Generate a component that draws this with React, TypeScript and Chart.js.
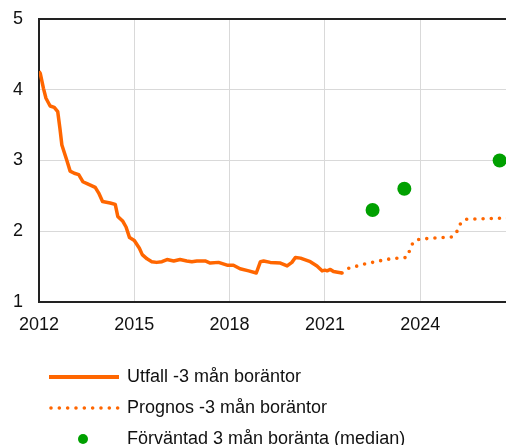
import React, { useEffect, useRef } from "react";
import { Chart, registerables } from "chart.js";

Chart.register(...registerables);

const seriesLabels = [
  "Utfall -3 mån boräntor",
  "Prognos -3 mån boräntor",
  "Förväntad 3 mån boränta (median)",
];

const outcomeYears = [
  2012.0, 2012.04, 2012.14, 2012.22, 2012.35, 2012.48, 2012.59, 2012.66, 2012.72, 2012.87,
  2012.98, 2013.11, 2013.25, 2013.38, 2013.53, 2013.77, 2013.88, 2014.0, 2014.24, 2014.4,
  2014.48, 2014.64, 2014.74, 2014.85, 2015.0, 2015.16, 2015.25, 2015.4, 2015.55, 2015.7,
  2015.87, 2016.03, 2016.24, 2016.44, 2016.65, 2016.81, 2016.97, 2017.23, 2017.39, 2017.65,
  2017.92, 2018.12, 2018.33, 2018.6, 2018.84, 2018.97, 2019.07, 2019.28, 2019.6, 2019.81,
  2019.96, 2020.07, 2020.23, 2020.54, 2020.75, 2020.91, 2021.0, 2021.07, 2021.17, 2021.27,
  2021.4, 2021.54,
];
const outcomeValues = [
  4.26, 4.23, 4.02, 3.88, 3.77, 3.75, 3.69, 3.45, 3.22, 3.01,
  2.85, 2.82, 2.8, 2.7, 2.67, 2.62, 2.54, 2.42, 2.4, 2.38,
  2.21, 2.14, 2.06, 1.91, 1.87, 1.76, 1.67, 1.61, 1.57, 1.56,
  1.57, 1.6, 1.58, 1.6, 1.58, 1.57, 1.58, 1.58, 1.55, 1.56,
  1.52, 1.52, 1.47, 1.44, 1.41, 1.57, 1.58, 1.56, 1.55, 1.51,
  1.56, 1.63, 1.62, 1.57, 1.51, 1.44, 1.45, 1.44, 1.46, 1.43,
  1.42, 1.41,
];

const forecastYears = [
  2021.54, 2021.76, 2022.03, 2022.28, 2022.55, 2022.81, 2023.06, 2023.31, 2023.58, 2023.67,
  2023.78, 2023.99, 2025.01, 2025.16, 2025.27, 2025.43, 2027.0,
];
const forecastValues = [
  1.41, 1.48, 1.51, 1.54, 1.565, 1.59, 1.61, 1.62, 1.63, 1.73,
  1.85, 1.89, 1.92, 2.0, 2.11, 2.17, 2.19,
];

const surveyYears = [2022.5, 2023.5, 2026.5];
const surveyValues = [2.3, 2.6, 3.0];

const xTicks = [2012, 2015, 2018, 2021, 2024];
const yTicks = [1, 2, 3, 4, 5];

const ORANGE = "#ff6600";
const GREEN = "#00a000";
const AXIS = "#222222";
const GRID = "#d9d9d9";
const FONT = "'Liberation Sans', Arial, sans-serif";

function makeIcon(kind: "solid" | "dotted" | "dot"): HTMLCanvasElement {
  const c = document.createElement("canvas");
  c.width = 72;
  c.height = 12;
  const g = c.getContext("2d")!;
  if (kind === "solid") {
    g.strokeStyle = ORANGE;
    g.lineWidth = 4;
    g.beginPath();
    g.moveTo(0, 6);
    g.lineTo(70, 6);
    g.stroke();
  } else if (kind === "dotted") {
    g.strokeStyle = ORANGE;
    g.lineWidth = 3.6;
    g.lineCap = "round";
    g.setLineDash([0, 8.33]);
    g.beginPath();
    g.moveTo(2, 6);
    g.lineTo(70, 6);
    g.stroke();
  } else {
    g.fillStyle = GREEN;
    g.beginPath();
    g.arc(34, 6, 5, 0, Math.PI * 2);
    g.fill();
  }
  return c;
}

export default function App() {
  const ref = useRef<HTMLCanvasElement | null>(null);

  useEffect(() => {
    document.body.style.margin = "0";
    const canvas = ref.current;
    if (!canvas) return;
    const icons = [makeIcon("solid"), makeIcon("dotted"), makeIcon("dot")];

    const chart = new Chart(canvas, {
      type: "line",
      data: {
        datasets: [
          {
            label: seriesLabels[0],
            data: outcomeYears.map((x, i) => ({ x, y: outcomeValues[i] })),
            borderColor: ORANGE,
            backgroundColor: ORANGE,
            borderWidth: 3.5,
            pointRadius: 0,
            tension: 0,
            borderJoinStyle: "round",
          },
          {
            label: seriesLabels[1],
            data: forecastYears.map((x, i) => ({ x, y: forecastValues[i] })),
            borderColor: ORANGE,
            backgroundColor: ORANGE,
            borderWidth: 3.6,
            borderDash: [0, 8.2],
            borderCapStyle: "round",
            pointRadius: 0,
            tension: 0,
          },
          {
            type: "scatter",
            label: seriesLabels[2],
            data: surveyYears.map((x, i) => ({ x, y: surveyValues[i] })),
            borderColor: GREEN,
            backgroundColor: GREEN,
            pointBackgroundColor: GREEN,
            pointBorderWidth: 0,
            pointRadius: 7,
            showLine: false,
          } as any,
        ],
      },
      options: {
        animation: false,
        responsive: true,
        maintainAspectRatio: false,
        layout: { autoPadding: false, padding: { top: 19, right: 0, bottom: -13, left: 0 } },
        plugins: {
          tooltip: { enabled: false },
          legend: {
            display: true,
            position: "bottom",
            align: "start",
            fullSize: false,
            labels: {
              usePointStyle: true,
              pointStyleWidth: 66,
              padding: 13,
              color: "#111",
              font: { family: FONT, size: 18 },
              generateLabels: (ch: any) => {
                const base = Chart.defaults.plugins.legend.labels.generateLabels(ch);
                return base.map((it: any, i: number) => ({ ...it, pointStyle: icons[i], lineWidth: 0 }));
              },
            },
          },
        },
        scales: {
          x: {
            type: "linear",
            min: 2012,
            max: 2026.7,
            afterBuildTicks: (s: any) => {
              s.ticks = xTicks.map((v) => ({ value: v }));
            },
            afterFit: (s: any) => {
              s.height = 53;
              s.paddingLeft = 0;
              s.paddingRight = 0;
            },
            ticks: {
              autoSkip: false,
              maxRotation: 0,
              padding: 12,
              color: "#111",
              font: { family: FONT, size: 18 },
              callback: (v: any) => String(v),
            },
            grid: { color: GRID, lineWidth: 1, drawTicks: false },
            border: { color: AXIS, width: 2 },
          },
          y: {
            type: "linear",
            min: 1,
            max: 5,
            afterBuildTicks: (s: any) => {
              s.ticks = yTicks.map((v) => ({ value: v }));
            },
            afterFit: (s: any) => {
              s.width = 39;
              s.paddingTop = 0;
              s.paddingBottom = 0;
            },
            ticks: {
              padding: 16,
              color: "#111",
              font: { family: FONT, size: 18 },
              callback: (v: any) => String(v),
            },
            grid: {
              drawTicks: false,
              color: (c: any) => (c.tick && c.tick.value === 5 ? AXIS : GRID),
              lineWidth: (c: any) => (c.tick && c.tick.value === 5 ? 2 : 1),
            },
            border: { color: AXIS, width: 2 },
          },
        },
      } as any,
    });
    return () => chart.destroy();
  }, []);

  return (
    <div style={{ position: "fixed", left: 0, top: 0, width: 506, height: 445 }}>
      <canvas ref={ref} />
    </div>
  );
}
